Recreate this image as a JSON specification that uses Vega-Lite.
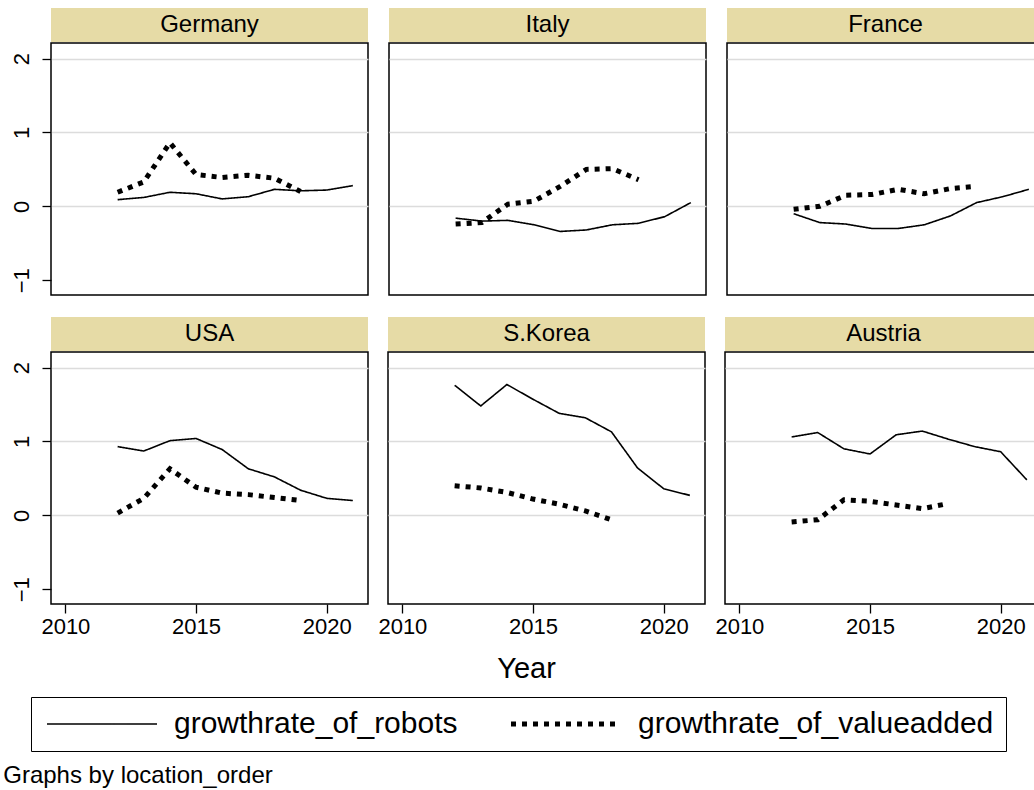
{
  "$schema": "https://vega.github.io/schema/vega-lite/v6.json",
  "padding": {"left": 3, "top": 8, "right": 0, "bottom": 0},
  "data": {"values": [
    {"country": "Germany", "year": 2012, "variable": "growthrate_of_robots", "value": 0.09},
    {"country": "Germany", "year": 2013, "variable": "growthrate_of_robots", "value": 0.12},
    {"country": "Germany", "year": 2014, "variable": "growthrate_of_robots", "value": 0.19},
    {"country": "Germany", "year": 2015, "variable": "growthrate_of_robots", "value": 0.17},
    {"country": "Germany", "year": 2016, "variable": "growthrate_of_robots", "value": 0.10},
    {"country": "Germany", "year": 2017, "variable": "growthrate_of_robots", "value": 0.13},
    {"country": "Germany", "year": 2018, "variable": "growthrate_of_robots", "value": 0.23},
    {"country": "Germany", "year": 2019, "variable": "growthrate_of_robots", "value": 0.21},
    {"country": "Germany", "year": 2020, "variable": "growthrate_of_robots", "value": 0.22},
    {"country": "Germany", "year": 2021, "variable": "growthrate_of_robots", "value": 0.28},
    {"country": "Germany", "year": 2012, "variable": "growthrate_of_valueadded", "value": 0.19},
    {"country": "Germany", "year": 2013, "variable": "growthrate_of_valueadded", "value": 0.33},
    {"country": "Germany", "year": 2014, "variable": "growthrate_of_valueadded", "value": 0.86},
    {"country": "Germany", "year": 2015, "variable": "growthrate_of_valueadded", "value": 0.43},
    {"country": "Germany", "year": 2016, "variable": "growthrate_of_valueadded", "value": 0.39},
    {"country": "Germany", "year": 2017, "variable": "growthrate_of_valueadded", "value": 0.42},
    {"country": "Germany", "year": 2018, "variable": "growthrate_of_valueadded", "value": 0.38},
    {"country": "Germany", "year": 2019, "variable": "growthrate_of_valueadded", "value": 0.20},
    {"country": "Italy", "year": 2012, "variable": "growthrate_of_robots", "value": -0.16},
    {"country": "Italy", "year": 2013, "variable": "growthrate_of_robots", "value": -0.20},
    {"country": "Italy", "year": 2014, "variable": "growthrate_of_robots", "value": -0.19},
    {"country": "Italy", "year": 2015, "variable": "growthrate_of_robots", "value": -0.25},
    {"country": "Italy", "year": 2016, "variable": "growthrate_of_robots", "value": -0.34},
    {"country": "Italy", "year": 2017, "variable": "growthrate_of_robots", "value": -0.32},
    {"country": "Italy", "year": 2018, "variable": "growthrate_of_robots", "value": -0.25},
    {"country": "Italy", "year": 2019, "variable": "growthrate_of_robots", "value": -0.23},
    {"country": "Italy", "year": 2020, "variable": "growthrate_of_robots", "value": -0.14},
    {"country": "Italy", "year": 2021, "variable": "growthrate_of_robots", "value": 0.05},
    {"country": "Italy", "year": 2012, "variable": "growthrate_of_valueadded", "value": -0.24},
    {"country": "Italy", "year": 2013, "variable": "growthrate_of_valueadded", "value": -0.22},
    {"country": "Italy", "year": 2014, "variable": "growthrate_of_valueadded", "value": 0.03},
    {"country": "Italy", "year": 2015, "variable": "growthrate_of_valueadded", "value": 0.07},
    {"country": "Italy", "year": 2016, "variable": "growthrate_of_valueadded", "value": 0.27},
    {"country": "Italy", "year": 2017, "variable": "growthrate_of_valueadded", "value": 0.50},
    {"country": "Italy", "year": 2018, "variable": "growthrate_of_valueadded", "value": 0.51},
    {"country": "Italy", "year": 2019, "variable": "growthrate_of_valueadded", "value": 0.36},
    {"country": "France", "year": 2012, "variable": "growthrate_of_robots", "value": -0.10},
    {"country": "France", "year": 2013, "variable": "growthrate_of_robots", "value": -0.22},
    {"country": "France", "year": 2014, "variable": "growthrate_of_robots", "value": -0.24},
    {"country": "France", "year": 2015, "variable": "growthrate_of_robots", "value": -0.30},
    {"country": "France", "year": 2016, "variable": "growthrate_of_robots", "value": -0.30},
    {"country": "France", "year": 2017, "variable": "growthrate_of_robots", "value": -0.25},
    {"country": "France", "year": 2018, "variable": "growthrate_of_robots", "value": -0.13},
    {"country": "France", "year": 2019, "variable": "growthrate_of_robots", "value": 0.05},
    {"country": "France", "year": 2020, "variable": "growthrate_of_robots", "value": 0.13},
    {"country": "France", "year": 2021, "variable": "growthrate_of_robots", "value": 0.23},
    {"country": "France", "year": 2012, "variable": "growthrate_of_valueadded", "value": -0.04},
    {"country": "France", "year": 2013, "variable": "growthrate_of_valueadded", "value": 0.00},
    {"country": "France", "year": 2014, "variable": "growthrate_of_valueadded", "value": 0.15},
    {"country": "France", "year": 2015, "variable": "growthrate_of_valueadded", "value": 0.16},
    {"country": "France", "year": 2016, "variable": "growthrate_of_valueadded", "value": 0.23},
    {"country": "France", "year": 2017, "variable": "growthrate_of_valueadded", "value": 0.17},
    {"country": "France", "year": 2018, "variable": "growthrate_of_valueadded", "value": 0.24},
    {"country": "France", "year": 2019, "variable": "growthrate_of_valueadded", "value": 0.27},
    {"country": "USA", "year": 2012, "variable": "growthrate_of_robots", "value": 0.93},
    {"country": "USA", "year": 2013, "variable": "growthrate_of_robots", "value": 0.87},
    {"country": "USA", "year": 2014, "variable": "growthrate_of_robots", "value": 1.01},
    {"country": "USA", "year": 2015, "variable": "growthrate_of_robots", "value": 1.04},
    {"country": "USA", "year": 2016, "variable": "growthrate_of_robots", "value": 0.89},
    {"country": "USA", "year": 2017, "variable": "growthrate_of_robots", "value": 0.63},
    {"country": "USA", "year": 2018, "variable": "growthrate_of_robots", "value": 0.52},
    {"country": "USA", "year": 2019, "variable": "growthrate_of_robots", "value": 0.34},
    {"country": "USA", "year": 2020, "variable": "growthrate_of_robots", "value": 0.23},
    {"country": "USA", "year": 2021, "variable": "growthrate_of_robots", "value": 0.20},
    {"country": "USA", "year": 2012, "variable": "growthrate_of_valueadded", "value": 0.03},
    {"country": "USA", "year": 2013, "variable": "growthrate_of_valueadded", "value": 0.23},
    {"country": "USA", "year": 2014, "variable": "growthrate_of_valueadded", "value": 0.63},
    {"country": "USA", "year": 2015, "variable": "growthrate_of_valueadded", "value": 0.38},
    {"country": "USA", "year": 2016, "variable": "growthrate_of_valueadded", "value": 0.30},
    {"country": "USA", "year": 2017, "variable": "growthrate_of_valueadded", "value": 0.28},
    {"country": "USA", "year": 2018, "variable": "growthrate_of_valueadded", "value": 0.24},
    {"country": "USA", "year": 2019, "variable": "growthrate_of_valueadded", "value": 0.20},
    {"country": "S.Korea", "year": 2012, "variable": "growthrate_of_robots", "value": 1.76},
    {"country": "S.Korea", "year": 2013, "variable": "growthrate_of_robots", "value": 1.48},
    {"country": "S.Korea", "year": 2014, "variable": "growthrate_of_robots", "value": 1.77},
    {"country": "S.Korea", "year": 2015, "variable": "growthrate_of_robots", "value": 1.57},
    {"country": "S.Korea", "year": 2016, "variable": "growthrate_of_robots", "value": 1.38},
    {"country": "S.Korea", "year": 2017, "variable": "growthrate_of_robots", "value": 1.32},
    {"country": "S.Korea", "year": 2018, "variable": "growthrate_of_robots", "value": 1.13},
    {"country": "S.Korea", "year": 2019, "variable": "growthrate_of_robots", "value": 0.64},
    {"country": "S.Korea", "year": 2020, "variable": "growthrate_of_robots", "value": 0.36},
    {"country": "S.Korea", "year": 2021, "variable": "growthrate_of_robots", "value": 0.27},
    {"country": "S.Korea", "year": 2012, "variable": "growthrate_of_valueadded", "value": 0.40},
    {"country": "S.Korea", "year": 2013, "variable": "growthrate_of_valueadded", "value": 0.37},
    {"country": "S.Korea", "year": 2014, "variable": "growthrate_of_valueadded", "value": 0.31},
    {"country": "S.Korea", "year": 2015, "variable": "growthrate_of_valueadded", "value": 0.22},
    {"country": "S.Korea", "year": 2016, "variable": "growthrate_of_valueadded", "value": 0.15},
    {"country": "S.Korea", "year": 2017, "variable": "growthrate_of_valueadded", "value": 0.06},
    {"country": "S.Korea", "year": 2018, "variable": "growthrate_of_valueadded", "value": -0.06},
    {"country": "Austria", "year": 2012, "variable": "growthrate_of_robots", "value": 1.06},
    {"country": "Austria", "year": 2013, "variable": "growthrate_of_robots", "value": 1.12},
    {"country": "Austria", "year": 2014, "variable": "growthrate_of_robots", "value": 0.90},
    {"country": "Austria", "year": 2015, "variable": "growthrate_of_robots", "value": 0.83},
    {"country": "Austria", "year": 2016, "variable": "growthrate_of_robots", "value": 1.09},
    {"country": "Austria", "year": 2017, "variable": "growthrate_of_robots", "value": 1.14},
    {"country": "Austria", "year": 2018, "variable": "growthrate_of_robots", "value": 1.03},
    {"country": "Austria", "year": 2019, "variable": "growthrate_of_robots", "value": 0.93},
    {"country": "Austria", "year": 2020, "variable": "growthrate_of_robots", "value": 0.86},
    {"country": "Austria", "year": 2021, "variable": "growthrate_of_robots", "value": 0.48},
    {"country": "Austria", "year": 2012, "variable": "growthrate_of_valueadded", "value": -0.09},
    {"country": "Austria", "year": 2013, "variable": "growthrate_of_valueadded", "value": -0.06},
    {"country": "Austria", "year": 2014, "variable": "growthrate_of_valueadded", "value": 0.21},
    {"country": "Austria", "year": 2015, "variable": "growthrate_of_valueadded", "value": 0.19},
    {"country": "Austria", "year": 2016, "variable": "growthrate_of_valueadded", "value": 0.14},
    {"country": "Austria", "year": 2017, "variable": "growthrate_of_valueadded", "value": 0.09},
    {"country": "Austria", "year": 2018, "variable": "growthrate_of_valueadded", "value": 0.16}
  ]},
  "spacing": 21,
  "vconcat": [
    {"spacing": 19, "hconcat": [
      {"spacing": 0, "vconcat": [
        {"width": 317, "height": 34, "view": {"fill": "#E6DBA6"},
         "transform": [{"filter": "datum.country === 'Germany' && datum.year === 2012 && datum.variable === 'growthrate_of_robots'"}],
         "mark": {"type": "text", "fontSize": 24, "color": "black"},
         "encoding": {"text": {"field": "country"}}},
        {"width": 317, "height": 252,
         "transform": [{"filter": "datum.country === 'Germany'"}],
         "mark": {"type": "line", "color": "black", "strokeCap": "butt"},
         "encoding": {
           "x": {"field": "year", "type": "quantitative", "scale": {"domain": [2009.45, 2021.58], "nice": false, "zero": false}, "axis": null},
           "y": {"field": "value", "type": "quantitative", "scale": {"domain": [-1.2, 2.21], "nice": false, "zero": false},
                 "axis": {"values": [-1, 0, 1, 2], "title": null, "labelAngle": -90, "labelAlign": "center", "labelBaseline": "bottom", "labelFontSize": 22, "labelColor": "black", "labelPadding": 9, "tickSize": 9, "tickColor": "black", "tickWidth": 1.3, "domain": false, "grid": true, "gridColor": "#DCDCDC", "gridWidth": 1.6, "gridOpacity": {"condition": {"test": "datum.value === -1", "value": 0}, "value": 1}}},
           "strokeDash": {"field": "variable", "type": "nominal", "scale": {"domain": ["growthrate_of_robots", "growthrate_of_valueadded"], "range": [[1, 0], [5, 6]]},
                          "legend": {"title": null, "orient": "none", "legendX": -20, "legendY": 689, "direction": "horizontal", "symbolType": "M-1,0H9", "symbolSize": 484, "symbolStrokeColor": "black", "symbolFillColor": "transparent", "labelFontSize": 30, "labelColor": "black", "labelOffset": 101, "columnPadding": 43, "strokeColor": "black", "padding": 12, "labelLimit": 0}},
           "strokeWidth": {"field": "variable", "type": "nominal", "scale": {"type": "ordinal", "domain": ["growthrate_of_robots", "growthrate_of_valueadded"], "range": [1.6, 5]},
                          "legend": {"title": null, "orient": "none", "legendX": -20, "legendY": 689, "direction": "horizontal", "symbolType": "M-1,0H9", "symbolSize": 484, "symbolStrokeColor": "black", "symbolFillColor": "transparent", "labelFontSize": 30, "labelColor": "black", "labelOffset": 101, "columnPadding": 43, "strokeColor": "black", "padding": 12, "labelLimit": 0}}
         }}
      ]},
      {"spacing": 0, "vconcat": [
        {"width": 317, "height": 34, "view": {"fill": "#E6DBA6"},
         "transform": [{"filter": "datum.country === 'Italy' && datum.year === 2012 && datum.variable === 'growthrate_of_robots'"}],
         "mark": {"type": "text", "fontSize": 24, "color": "black"},
         "encoding": {"text": {"field": "country"}}},
        {"width": 317, "height": 252,
         "transform": [{"filter": "datum.country === 'Italy'"}],
         "mark": {"type": "line", "color": "black", "strokeCap": "butt"},
         "encoding": {
           "x": {"field": "year", "type": "quantitative", "scale": {"domain": [2009.45, 2021.58], "nice": false, "zero": false}, "axis": null},
           "y": {"field": "value", "type": "quantitative", "scale": {"domain": [-1.2, 2.21], "nice": false, "zero": false},
                 "axis": {"values": [-1, 0, 1, 2], "title": null, "labels": false, "ticks": false, "domain": false, "grid": true, "gridColor": "#DCDCDC", "gridWidth": 1.6, "gridOpacity": {"condition": {"test": "datum.value === -1", "value": 0}, "value": 1}}},
           "strokeDash": {"field": "variable", "type": "nominal", "scale": {"domain": ["growthrate_of_robots", "growthrate_of_valueadded"], "range": [[1, 0], [5, 6]]}},
           "strokeWidth": {"field": "variable", "type": "nominal", "scale": {"type": "ordinal", "domain": ["growthrate_of_robots", "growthrate_of_valueadded"], "range": [1.6, 5]}}
         }}
      ]},
      {"spacing": 0, "vconcat": [
        {"width": 317, "height": 34, "view": {"fill": "#E6DBA6"},
         "transform": [{"filter": "datum.country === 'France' && datum.year === 2012 && datum.variable === 'growthrate_of_robots'"}],
         "mark": {"type": "text", "fontSize": 24, "color": "black"},
         "encoding": {"text": {"field": "country"}}},
        {"width": 317, "height": 252,
         "transform": [{"filter": "datum.country === 'France'"}],
         "mark": {"type": "line", "color": "black", "strokeCap": "butt"},
         "encoding": {
           "x": {"field": "year", "type": "quantitative", "scale": {"domain": [2009.45, 2021.58], "nice": false, "zero": false}, "axis": null},
           "y": {"field": "value", "type": "quantitative", "scale": {"domain": [-1.2, 2.21], "nice": false, "zero": false},
                 "axis": {"values": [-1, 0, 1, 2], "title": null, "labels": false, "ticks": false, "domain": false, "grid": true, "gridColor": "#DCDCDC", "gridWidth": 1.6, "gridOpacity": {"condition": {"test": "datum.value === -1", "value": 0}, "value": 1}}},
           "strokeDash": {"field": "variable", "type": "nominal", "scale": {"domain": ["growthrate_of_robots", "growthrate_of_valueadded"], "range": [[1, 0], [5, 6]]}},
           "strokeWidth": {"field": "variable", "type": "nominal", "scale": {"type": "ordinal", "domain": ["growthrate_of_robots", "growthrate_of_valueadded"], "range": [1.6, 5]}}
         }}
      ]}
    ]},
    {"spacing": 8, "hconcat": [
      {"spacing": 0, "vconcat": [
        {"width": 317, "height": 34, "view": {"fill": "#E6DBA6"},
         "transform": [{"filter": "datum.country === 'USA' && datum.year === 2012 && datum.variable === 'growthrate_of_robots'"}],
         "mark": {"type": "text", "fontSize": 24, "color": "black"},
         "encoding": {"text": {"field": "country"}}},
        {"width": 317, "height": 252,
         "transform": [{"filter": "datum.country === 'USA'"}],
         "mark": {"type": "line", "color": "black", "strokeCap": "butt"},
         "encoding": {
           "x": {"field": "year", "type": "quantitative", "scale": {"domain": [2009.45, 2021.58], "nice": false, "zero": false},
                 "axis": {"values": [2010, 2015, 2020], "format": "d", "title": null, "labelFontSize": 22, "labelColor": "black", "labelPadding": 3, "tickSize": 9, "tickColor": "black", "tickWidth": 1.3, "domain": false, "grid": false}},
           "y": {"field": "value", "type": "quantitative", "scale": {"domain": [-1.2, 2.21], "nice": false, "zero": false},
                 "axis": {"values": [-1, 0, 1, 2], "title": null, "labelAngle": -90, "labelAlign": "center", "labelBaseline": "bottom", "labelFontSize": 22, "labelColor": "black", "labelPadding": 9, "tickSize": 9, "tickColor": "black", "tickWidth": 1.3, "domain": false, "grid": true, "gridColor": "#DCDCDC", "gridWidth": 1.6, "gridOpacity": {"condition": {"test": "datum.value === -1", "value": 0}, "value": 1}}},
           "strokeDash": {"field": "variable", "type": "nominal", "scale": {"domain": ["growthrate_of_robots", "growthrate_of_valueadded"], "range": [[1, 0], [5, 6]]}},
           "strokeWidth": {"field": "variable", "type": "nominal", "scale": {"type": "ordinal", "domain": ["growthrate_of_robots", "growthrate_of_valueadded"], "range": [1.6, 5]}}
         }}
      ]},
      {"spacing": 0, "vconcat": [
        {"width": 317, "height": 34, "view": {"fill": "#E6DBA6"},
         "transform": [{"filter": "datum.country === 'S.Korea' && datum.year === 2012 && datum.variable === 'growthrate_of_robots'"}],
         "mark": {"type": "text", "fontSize": 24, "color": "black"},
         "encoding": {"text": {"field": "country"}}},
        {"width": 317, "height": 252,
         "transform": [{"filter": "datum.country === 'S.Korea'"}],
         "mark": {"type": "line", "color": "black", "strokeCap": "butt"},
         "encoding": {
           "x": {"field": "year", "type": "quantitative", "scale": {"domain": [2009.45, 2021.58], "nice": false, "zero": false},
                 "axis": {"values": [2010, 2015, 2020], "format": "d", "title": "Year", "titleFontSize": 29, "titleFontWeight": "normal", "titleColor": "black", "titlePadding": 17, "titleX": 138, "labelFontSize": 22, "labelColor": "black", "labelPadding": 3, "tickSize": 9, "tickColor": "black", "tickWidth": 1.3, "domain": false, "grid": false}},
           "y": {"field": "value", "type": "quantitative", "scale": {"domain": [-1.2, 2.21], "nice": false, "zero": false},
                 "axis": {"values": [-1, 0, 1, 2], "title": null, "labels": false, "ticks": false, "domain": false, "grid": true, "gridColor": "#DCDCDC", "gridWidth": 1.6, "gridOpacity": {"condition": {"test": "datum.value === -1", "value": 0}, "value": 1}}},
           "strokeDash": {"field": "variable", "type": "nominal", "scale": {"domain": ["growthrate_of_robots", "growthrate_of_valueadded"], "range": [[1, 0], [5, 6]]}},
           "strokeWidth": {"field": "variable", "type": "nominal", "scale": {"type": "ordinal", "domain": ["growthrate_of_robots", "growthrate_of_valueadded"], "range": [1.6, 5]}}
         }}
      ]},
      {"spacing": 0, "vconcat": [
        {"width": 317, "height": 34, "view": {"fill": "#E6DBA6"},
         "transform": [{"filter": "datum.country === 'Austria' && datum.year === 2012 && datum.variable === 'growthrate_of_robots'"}],
         "mark": {"type": "text", "fontSize": 24, "color": "black"},
         "encoding": {"text": {"field": "country"}}},
        {"width": 317, "height": 252,
         "transform": [{"filter": "datum.country === 'Austria'"}],
         "mark": {"type": "line", "color": "black", "strokeCap": "butt"},
         "encoding": {
           "x": {"field": "year", "type": "quantitative", "scale": {"domain": [2009.45, 2021.58], "nice": false, "zero": false},
                 "axis": {"values": [2010, 2015, 2020], "format": "d", "title": null, "labelFontSize": 22, "labelColor": "black", "labelPadding": 3, "tickSize": 9, "tickColor": "black", "tickWidth": 1.3, "domain": false, "grid": false}},
           "y": {"field": "value", "type": "quantitative", "scale": {"domain": [-1.2, 2.21], "nice": false, "zero": false},
                 "axis": {"values": [-1, 0, 1, 2], "title": null, "labels": false, "ticks": false, "domain": false, "grid": true, "gridColor": "#DCDCDC", "gridWidth": 1.6, "gridOpacity": {"condition": {"test": "datum.value === -1", "value": 0}, "value": 1}}},
           "strokeDash": {"field": "variable", "type": "nominal", "scale": {"domain": ["growthrate_of_robots", "growthrate_of_valueadded"], "range": [[1, 0], [5, 6]]}},
           "strokeWidth": {"field": "variable", "type": "nominal", "scale": {"type": "ordinal", "domain": ["growthrate_of_robots", "growthrate_of_valueadded"], "range": [1.6, 5]}}
         }}
      ]}
    ]}
  ],
  "title": {"text": "Graphs by location_order", "orient": "bottom", "anchor": "start", "frame": "bounds", "fontSize": 24, "fontWeight": "normal", "color": "black", "offset": 12, "dx": -6},
  "config": {
    "font": "Liberation Sans",
    "view": {"stroke": "black", "strokeWidth": 1.5},
    "background": "white"
  }
}
